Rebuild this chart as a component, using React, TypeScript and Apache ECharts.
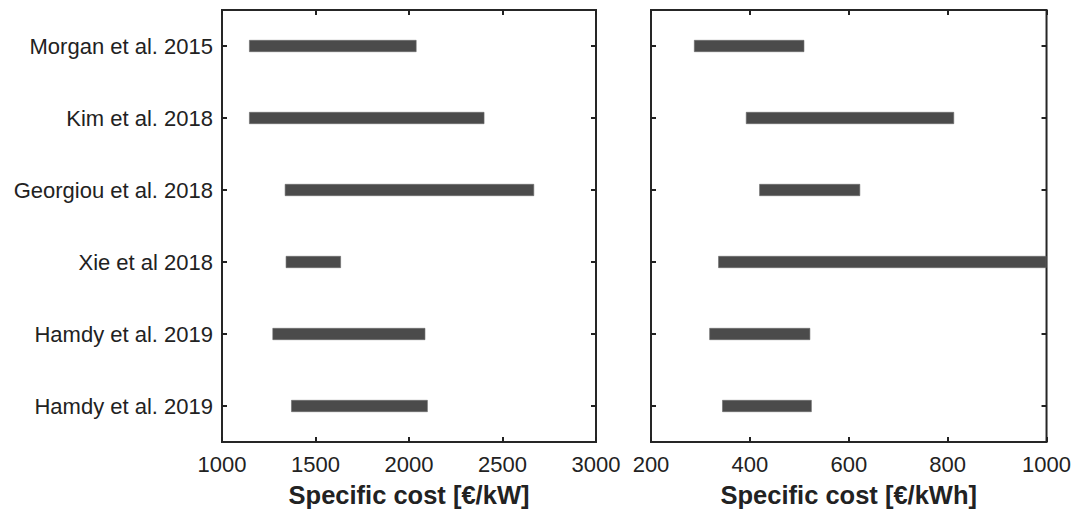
import React, { useEffect, useRef } from "react";
import * as echarts from "echarts";

const studies = [
  "Morgan et al. 2015",
  "Kim et al. 2018",
  "Georgiou et al. 2018",
  "Xie et al 2018",
  "Hamdy et al. 2019",
  "Hamdy et al. 2019",
];
const powerLow = [1145, 1145, 1336, 1341, 1270, 1370];
const powerHigh = [2040, 2403, 2669, 1636, 2087, 2100];
const energyLow = [287, 392, 419, 336, 318, 344];
const energyHigh = [510, 813, 623, 1000, 522, 525];
const powerTicks = [1000, 1500, 2000, 2500, 3000];
const energyTicks = [200, 400, 600, 800, 1000];

const FONT = "Liberation Sans, Arial, sans-serif";
const INK = "#222222";
const BAR = "#4b4b4b";

export default function App() {
  const ref = useRef<HTMLDivElement>(null);
  useEffect(() => {
    if (!ref.current) return;
    const chart = echarts.init(ref.current, undefined, { renderer: "svg" });
    const idx = studies.map((_, i) => i);
    const xBottom = (min: number, max: number, interval: number, name: string, grid: number) => ({
      type: "value",
      gridIndex: grid,
      position: "bottom",
      min,
      max,
      interval,
      name,
      nameLocation: "middle",
      nameGap: 40,
      nameTextStyle: { fontFamily: FONT, fontSize: 25.5, fontWeight: "bold", color: INK },
      axisLine: { show: false },
      axisTick: { show: true, inside: true, length: 5, lineStyle: { color: INK, width: 2 } },
      axisLabel: {
        show: true,
        fontFamily: FONT,
        fontSize: 22,
        color: INK,
        margin: 11,
        formatter: (v: number) => String(v),
      },
      splitLine: { show: false },
    });
    const xTop = (min: number, max: number, interval: number, grid: number) => ({
      type: "value",
      gridIndex: grid,
      position: "top",
      min,
      max,
      interval,
      axisLine: { show: false },
      axisTick: { show: true, inside: true, length: 5, lineStyle: { color: INK, width: 2 } },
      axisLabel: { show: false },
      splitLine: { show: false },
    });
    const yAx = (grid: number, position: string, showLabels: boolean) => ({
      type: "category",
      gridIndex: grid,
      position,
      inverse: true,
      data: studies,
      axisLine: { show: false },
      axisTick: { show: true, inside: true, alignWithLabel: true, length: 5, lineStyle: { color: INK, width: 2 } },
      axisLabel: { show: showLabels, fontFamily: FONT, fontSize: 22, color: INK, margin: 9 },
      splitLine: { show: false },
    });
    const rangeSeries = (low: number[], high: number[], xi: number, yi: number, stack: string) => [
      {
        type: "bar",
        xAxisIndex: xi,
        yAxisIndex: yi,
        stack,
        data: idx.map((i) => low[i]),
        barWidth: 12,
        itemStyle: { color: "transparent" },
        silent: true,
      },
      {
        type: "bar",
        xAxisIndex: xi,
        yAxisIndex: yi,
        stack,
        data: idx.map((i) => high[i] - low[i]),
        barWidth: 12,
        itemStyle: { color: BAR, borderColor: "#6a6a6a", borderWidth: 0.6 },
      },
    ];
    chart.setOption({
      animation: false,
      backgroundColor: "#ffffff",
      grid: [
        { left: 222, width: 374, top: 10, height: 433, show: true, borderColor: "#262626", borderWidth: 2, backgroundColor: "transparent" },
        { left: 651, width: 396, top: 10, height: 433, show: true, borderColor: "#262626", borderWidth: 2, backgroundColor: "transparent" },
      ],
      xAxis: [
        xBottom(powerTicks[0], powerTicks[powerTicks.length - 1], powerTicks[1] - powerTicks[0], "Specific cost [€/kW]", 0),
        xTop(powerTicks[0], powerTicks[powerTicks.length - 1], powerTicks[1] - powerTicks[0], 0),
        xBottom(energyTicks[0], energyTicks[energyTicks.length - 1], energyTicks[1] - energyTicks[0], "Specific cost [€/kWh]", 1),
        xTop(energyTicks[0], energyTicks[energyTicks.length - 1], energyTicks[1] - energyTicks[0], 1),
      ],
      yAxis: [yAx(0, "left", true), yAx(0, "right", false), yAx(1, "left", false), yAx(1, "right", false)],
      series: [...rangeSeries(powerLow, powerHigh, 0, 0, "p"), ...rangeSeries(energyLow, energyHigh, 2, 2, "e")],
    });
    return () => chart.dispose();
  }, []);
  return (
    <div
      ref={ref}
      style={{ position: "fixed", left: 0, top: 0, width: 1074, height: 513, background: "#fff" }}
    />
  );
}
